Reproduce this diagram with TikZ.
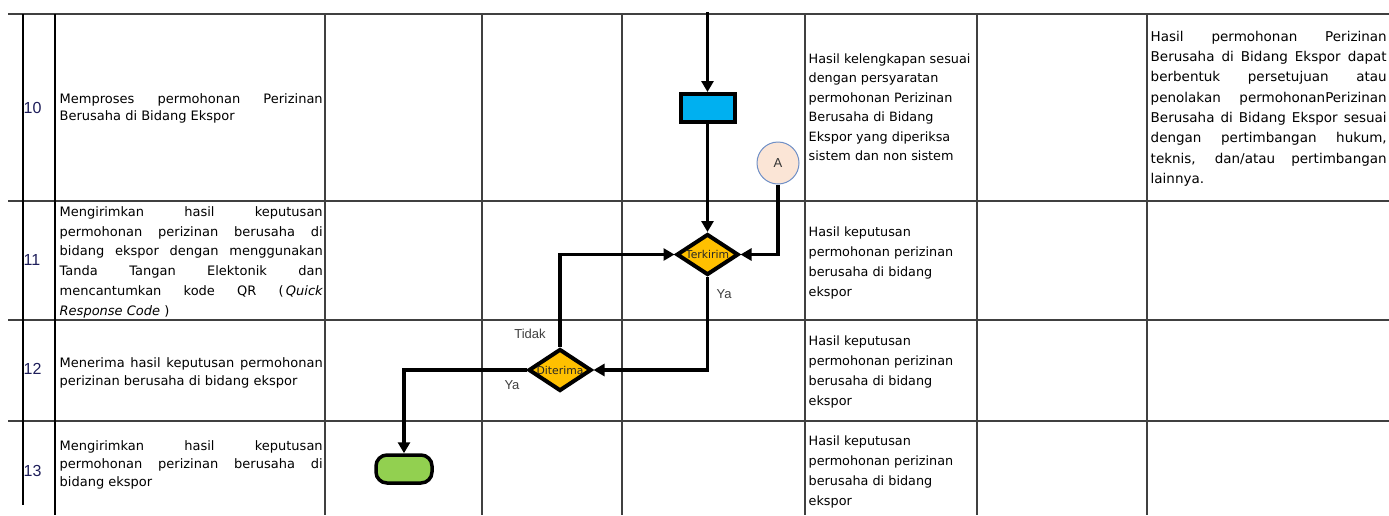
\documentclass[tikz,border=0pt]{standalone}
\usepackage{fontspec}
\setmainfont{DejaVu Sans}
\newfontfamily\arialf{Liberation Sans}
\usetikzlibrary{arrows.meta,shapes.geometric}
\definecolor{gridc}{HTML}{404040}
\definecolor{numc}{HTML}{1E1E5A}
\definecolor{procblue}{HTML}{00B0F0}
\definecolor{decyel}{HTML}{FFC000}
\definecolor{termgreen}{HTML}{92D050}
\definecolor{connfill}{HTML}{FBE5D6}
\definecolor{connedge}{HTML}{6F8FC6}
\definecolor{lblgray}{HTML}{404040}
\newcommand{\jl}[2]{\makebox[#1][s]{#2}}
\begin{document}
\begin{tikzpicture}[x=1pt,y=-1pt,
  gridline/.style={draw=gridc,line width=1.3pt},
  cell/.style={anchor=base west,inner sep=0pt,align=left,text=black},
  numtxt/.style={anchor=base west,inner sep=0pt,text=numc,font=\arialf\fontsize{16}{16}\selectfont},
  proc/.style={draw=black,fill=procblue,line width=4pt,minimum width=54pt,minimum height=28pt,inner sep=0pt},
  dec/.style={diamond,draw=black,fill=decyel,line width=4pt,inner sep=0pt,aspect=1.5},
  dtext/.style={inner sep=0pt,text=black!85,font=\fontsize{10.8}{12}\selectfont},
  term/.style={draw=black,fill=termgreen,line width=3.5pt,rounded corners=11pt,minimum width=56pt,minimum height=28pt,inner sep=0pt},
  conn/.style={circle,draw=connedge,fill=connfill,line width=1pt,minimum size=42pt,inner sep=0pt,font=\arialf\fontsize{13}{13}\selectfont,text=black!80},
  flow/.style={line width=3.5pt,-{Triangle[length=11pt,width=12pt]}},
  lbl/.style={inner sep=0pt,text=lblgray,font=\arialf\fontsize{13}{13}\selectfont}
]
\useasboundingbox (0,0) rectangle (1389,515);
\fill[white] (0,0) rectangle (1389,515);

% ---- table grid ----
\foreach \yy in {14,201,320,421} \draw[gridline] (8,\yy) -- (1389,\yy);
\draw[black,line width=2pt] (23,14) -- (23,505);
\draw[black,line width=1.5pt] (55,14) -- (55,515);
\foreach \xx in {325,482,622,805,977,1147} \draw[gridline] (\xx,14) -- (\xx,515);

% ---- numbers ----
\node[numtxt] (n10) at (23.5,113) {10};
\node[numtxt] (n11) at (23.5,265) {11};
\node[numtxt] (n12) at (23.5,374) {12};
\node[numtxt] (n13) at (23.5,476.5) {13};

% ---- activity texts (anchor = baseline of last line) ----
\node[cell,font=\fontsize{13}{17}\selectfont] (t10) at (59.5,120.7)
  {\jl{263pt}{Memproses permohonan Perizinan}\\Berusaha di Bidang Ekspor};
\node[cell,font=\fontsize{13}{19.8}\selectfont] (t11) at (59.5,315.2)
  {\jl{263pt}{Mengirimkan hasil keputusan}\\
   \jl{263pt}{permohonan perizinan berusaha di}\\
   \jl{263pt}{bidang ekspor dengan menggunakan}\\
   \jl{263pt}{Tanda Tangan Elektonik dan}\\
   \jl{263pt}{mencantumkan kode QR (\,{\itshape Quick}}\\
   {\itshape Response Code} )};
\node[cell,font=\fontsize{13}{18}\selectfont] (t12) at (59.5,385.7)
  {\jl{263pt}{Menerima hasil keputusan permohonan}\\perizinan berusaha di bidang ekspor};
\node[cell,font=\fontsize{13}{18}\selectfont] (t13) at (59.5,486.7)
  {\jl{263pt}{Mengirimkan hasil keputusan}\\
   \jl{263pt}{permohonan perizinan berusaha di}\\
   bidang ekspor};

% ---- output column ----
\node[cell,font=\fontsize{12.8}{19.5}\selectfont] (o10) at (808.5,160.9)
  {Hasil kelengkapan sesuai\\dengan persyaratan\\permohonan Perizinan\\Berusaha di Bidang\\Ekspor yang diperiksa\\sistem dan non sistem};
\node[cell,font=\fontsize{12.8}{20}\selectfont] (o11) at (808.5,296.5)
  {Hasil keputusan\\permohonan perizinan\\berusaha di bidang\\ekspor};
\node[cell,font=\fontsize{12.8}{20}\selectfont] (o12) at (808.5,405.5)
  {Hasil keputusan\\permohonan perizinan\\berusaha di bidang\\ekspor};
\node[cell,font=\fontsize{12.8}{20}\selectfont] (o13) at (808.5,505.5)
  {Hasil keputusan\\permohonan perizinan\\berusaha di bidang\\ekspor};

% ---- remarks column ----
\node[cell,font=\fontsize{13.5}{20.3}\selectfont] (r10) at (1150.5,183.3)
  {\jl{236pt}{Hasil permohonan Perizinan}\\
   \jl{236pt}{Berusaha di Bidang Ekspor dapat}\\
   \jl{236pt}{berbentuk persetujuan atau}\\
   \jl{236pt}{penolakan permohonanPerizinan}\\
   \jl{236pt}{Berusaha di Bidang Ekspor sesuai}\\
   \jl{236pt}{dengan pertimbangan hukum,}\\
   \jl{236pt}{teknis, dan/atau pertimbangan}\\
   lainnya.};

% ---- flow shapes ----
\coordinate (top) at (707.5,12);
\node[proc] (R) at (707.5,108) {};
\node[conn] (A) at (778,163) {A};
\node[dec,minimum width=62pt,minimum height=41pt] (T) at (707.5,254.5) {};
\node[dtext] (Tt) at (T.center) {Terkirim};
\node[dec,minimum width=63pt,minimum height=42pt] (D) at (560,370) {};
\node[dtext] (Dt) at (D.center) {Diterima};
\node[term] (E) at (404,469) {};

% ---- connectors ----
\draw[flow] (top) -- (R.north);
\draw[flow] (R.south) -- (T.north);
\draw[flow] (A.south) |- (T.east);
\draw[flow] (T.south) |- (D.east);
\draw[flow] (D.north) |- (T.west);
\draw[flow] (D.west) -| (E.north);

% ---- branch labels ----
\node[lbl] (ya1) at (724,294) {Ya};
\node[lbl] (tidak) at (530,334) {Tidak};
\node[lbl] (ya2) at (512,385) {Ya};
\end{tikzpicture}
\end{document}
